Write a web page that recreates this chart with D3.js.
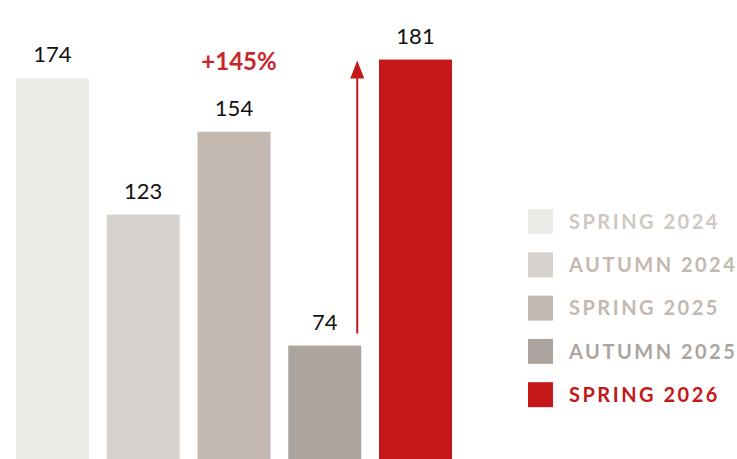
<!doctype html>
<html>
<head>
<meta charset='utf-8'>
<style>
  body { margin: 0; background: #fff; }
  svg { display: block; }
</style>
</head>
<body>
<div id='chart'></div>
<script src='https://cdn.jsdelivr.net/npm/d3@7/dist/d3.min.js'></script>
<script>

// data
const seasons = ['SPRING 2024', 'AUTUMN 2024', 'SPRING 2025', 'AUTUMN 2025', 'SPRING 2026'];
const values = [174, 123, 154, 74, 181];
const barColors = ['#edebe8', '#d6d2cd', '#c3b9b0', '#aca59f', '#c41718'];
const legendColors = ['#cec8c2', '#c3b9b0', '#c3b9b0', '#aca59f', '#c41718'];
const growthLabel = '+145%';

const W = 737, H = 459;

const svg = d3.select('#chart')
  .append('svg')
  .attr('width', W)
  .attr('height', H);

const x = d3.scaleBand()
  .domain(seasons)
  .range([16, 452])
  .paddingInner(0.1956)
  .paddingOuter(0);

// baseline sits below the visible area, bars run off the bottom edge
const y = d3.scaleLinear()
  .domain([0, 200])
  .range([543.4, 8.8]);

const data = seasons.map((s, i) => ({season: s, value: values[i], color: barColors[i]}));

const bars = svg.selectAll('.bar')
  .data(data)
  .enter()
  .append('g')
  .attr('class', 'bar');

bars.append('rect')
  .attr('x', d => x(d.season))
  .attr('y', d => y(d.value))
  .attr('width', x.bandwidth())
  .attr('height', d => H - y(d.value))
  .style('fill', d => d.color);

bars.append('text')
  .attr('x', d => x(d.season) + x.bandwidth() / 2)
  .attr('y', d => y(d.value) - 16)
  .attr('text-anchor', 'middle')
  .style('font-family', 'Lato, "Open Sans", sans-serif')
  .style('font-size', '22px')
  .style('fill', '#111')
  .text(d => d.value);

// growth arrow over the right edge of the autumn 2025 bar
const arrowX = x(seasons[3]) + x.bandwidth() - 4;
const arrowBottom = y(values[3]) - 12;
const arrowTop = y(values[4]) + 1;

svg.append('line')
  .attr('x1', arrowX).attr('x2', arrowX)
  .attr('y1', arrowBottom).attr('y2', arrowTop + 14)
  .style('stroke', '#c41718')
  .style('stroke-width', 2);

svg.append('path')
  .attr('d', `M${arrowX},${arrowTop} L${arrowX - 7},${arrowTop + 18} L${arrowX + 7},${arrowTop + 18} Z`)
  .style('fill', '#c41718');

svg.append('text')
  .attr('x', x(seasons[2]) + x.bandwidth() / 2 + 5)
  .attr('y', 70)
  .attr('text-anchor', 'middle')
  .style('font-family', 'Lato, "Open Sans", sans-serif')
  .style('font-weight', 'bold')
  .style('font-size', '24px')
  .style('fill', '#c8262b')
  .text(growthLabel);

// legend
const legend = svg.selectAll('.legend')
  .data(data)
  .enter()
  .append('g')
  .attr('class', 'legend')
  .attr('transform', (d, i) => `translate(528, ${209 + i * 43.3})`);

legend.append('rect')
  .attr('width', 25)
  .attr('height', 25)
  .style('fill', d => d.color);

legend.append('text')
  .attr('x', 41)
  .attr('y', 12.5)
  .attr('dy', '0.36em')
  .style('font-family', 'Lato, "Open Sans", sans-serif')
  .style('font-weight', 'bold')
  .style('font-size', '20px')
  .style('letter-spacing', '2.5px')
  .style('fill', (d, i) => legendColors[i])
  .text(d => d.season);

</script>
</body>
</html>
